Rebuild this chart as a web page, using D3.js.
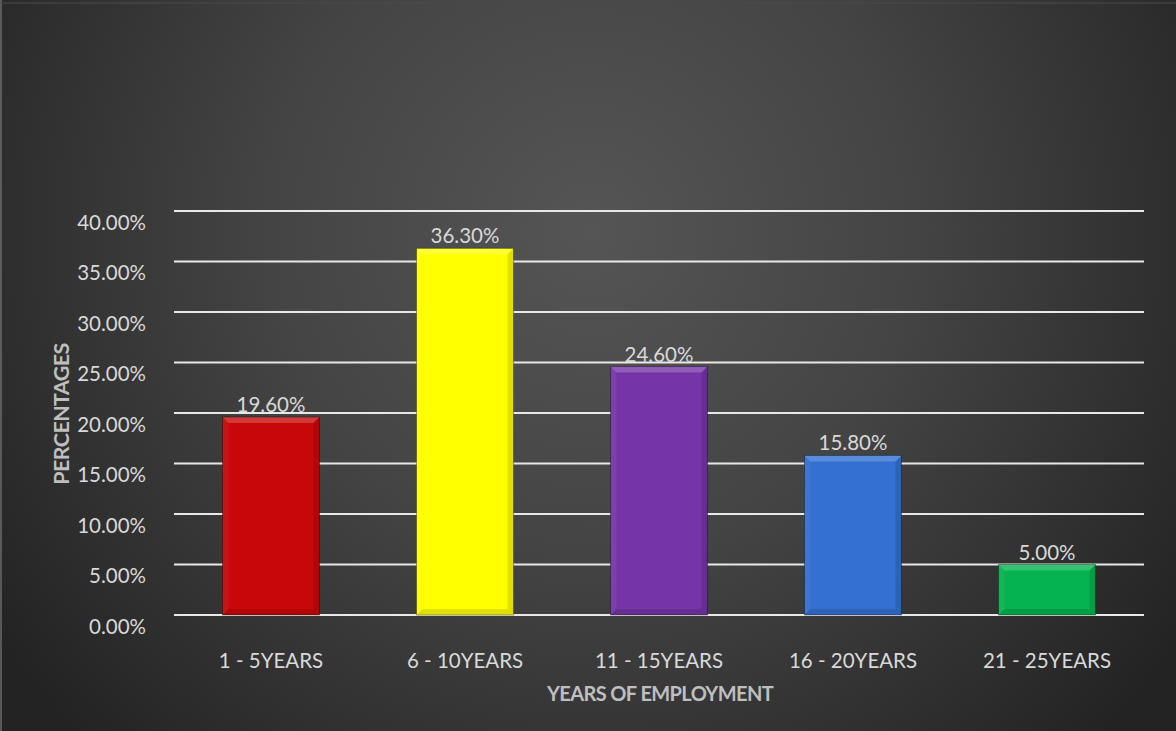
<!DOCTYPE html>
<html>
<head>
<meta charset="utf-8">
<script src="https://cdn.jsdelivr.net/npm/d3@7"></script>
<style>
  html, body { margin: 0; padding: 0; background: #2b2b2b; }
  svg { display: block; }
</style>
</head>
<body>
<svg id="chart" width="1176" height="731"></svg>
<script>
// Share of staff by years of employment
const categories = ["1 - 5YEARS", "6 - 10YEARS", "11 - 15YEARS", "16 - 20YEARS", "21 - 25YEARS"];
const values = [19.6, 36.3, 24.6, 15.8, 5.0];
const barColors = ["#c80808", "#ffff00", "#7535a8", "#3370d2", "#05b351"];
const yTicks = [0, 5, 10, 15, 20, 25, 30, 35, 40];

const W = 1176, H = 731;
const margin = { left: 174, right: 32, top: 211, bottom: 116 };

const svg = d3.select("#chart");
const defs = svg.append("defs");

// background glow
const bg = defs.append("radialGradient")
  .attr("id", "bgGlow")
  .attr("gradientUnits", "userSpaceOnUse")
  .attr("cx", 590).attr("cy", 230).attr("r", 720);
bg.append("stop").attr("offset", 0).attr("stop-color", "#555555");
bg.append("stop").attr("offset", 0.45).attr("stop-color", "#444444");
bg.append("stop").attr("offset", 1).attr("stop-color", "#232323");

svg.append("rect").attr("width", W).attr("height", H).attr("fill", "url(#bgGlow)");
svg.append("line").attr("x1", 1).attr("x2", 1).attr("y1", 0).attr("y2", H)
  .attr("stroke", "#8a8a8a").attr("stroke-width", 1);
svg.append("line").attr("x1", 0).attr("x2", W).attr("y1", 3).attr("y2", 3)
  .attr("stroke", "#4a4a4a").attr("stroke-width", 1);

const x = d3.scaleBand()
  .domain(categories)
  .range([margin.left, W - margin.right])
  .paddingInner(0.5)
  .paddingOuter(0.25);

const y = d3.scaleLinear()
  .domain([0, 40])
  .range([H - margin.bottom, margin.top]);

const font = "Lato, 'Open Sans', 'DejaVu Sans', sans-serif";
const labelSize = "20.5px";

// gridlines
svg.append("g")
  .selectAll("line")
  .data(yTicks)
  .join("line")
  .attr("x1", margin.left)
  .attr("x2", W - margin.right)
  .attr("y1", d => y(d))
  .attr("y2", d => y(d))
  .attr("stroke", "#e8e8e8")
  .attr("stroke-width", 2);

// y axis labels
const yAxis = d3.axisLeft(y)
  .tickValues(yTicks)
  .tickFormat(d => d3.format(".2f")(d) + "%")
  .tickSize(0)
  .tickPadding(28);
const gy = svg.append("g")
  .attr("transform", `translate(${margin.left},0)`)
  .call(yAxis);
gy.select(".domain").remove();
gy.selectAll("text")
  .attr("dy", "0.88em")
  .attr("fill", "#d9d9d9")
  .style("font-family", font)
  .style("font-size", labelSize);

// bars with bevelled edges
const bev = 6;
const bars = svg.append("g").selectAll("g")
  .data(categories.map((c, i) => ({ c, v: values[i], col: barColors[i] })))
  .join("g");

bars.append("rect")
  .attr("x", d => x(d.c))
  .attr("y", d => y(d.v))
  .attr("width", x.bandwidth())
  .attr("height", d => y(0) - y(d.v))
  .attr("fill", d => d.col);

function face(d, which) {
  const x0 = x(d.c), x1 = x0 + x.bandwidth();
  const y0 = y(d.v), y1 = y(0);
  if (which === "top") return [[x0, y0], [x1, y0], [x1 - bev, y0 + bev], [x0 + bev, y0 + bev]];
  if (which === "bottom") return [[x0, y1], [x1, y1], [x1 - bev, y1 - bev], [x0 + bev, y1 - bev]];
  if (which === "left") return [[x0, y0], [x0 + bev, y0 + bev], [x0 + bev, y1 - bev], [x0, y1]];
  return [[x1, y0], [x1 - bev, y0 + bev], [x1 - bev, y1 - bev], [x1, y1]];
}
const faces = [
  { k: "top", c: "#ffffff", o: 0.2 },
  { k: "left", c: "#ffffff", o: 0.05 },
  { k: "right", c: "#000000", o: 0.12 },
  { k: "bottom", c: "#000000", o: 0.12 }
];
faces.forEach(f => {
  bars.append("polygon")
    .attr("points", d => face(d, f.k).map(p => p.join(",")).join(" "))
    .attr("fill", f.c)
    .attr("fill-opacity", f.o);
});
bars.append("rect")
  .attr("x", d => x(d.c))
  .attr("y", d => y(d.v))
  .attr("width", x.bandwidth())
  .attr("height", d => y(0) - y(d.v))
  .attr("fill", "none")
  .attr("stroke", "#000")
  .attr("stroke-opacity", 0.35)
  .attr("stroke-width", 1);

// value labels
svg.append("g").selectAll("text")
  .data(categories.map((c, i) => ({ c, v: values[i] })))
  .join("text")
  .attr("x", d => x(d.c) + x.bandwidth() / 2)
  .attr("y", d => y(d.v) - 5)
  .attr("text-anchor", "middle")
  .attr("fill", "#d9d9d9")
  .style("font-family", font)
  .style("font-size", labelSize)
  .text(d => d3.format(".2f")(d.v) + "%");

// x axis labels
const xAxis = d3.axisBottom(x).tickSize(0).tickPadding(38);
const gx = svg.append("g")
  .attr("transform", `translate(0,${y(0)})`)
  .call(xAxis);
gx.select(".domain").remove();
gx.selectAll("text")
  .attr("fill", "#d9d9d9")
  .style("font-family", font)
  .style("font-size", labelSize);

// axis titles
svg.append("text")
  .attr("x", 660)
  .attr("y", 701)
  .attr("text-anchor", "middle")
  .attr("fill", "#bfbfbf")
  .style("font-family", font)
  .style("font-weight", "bold")
  .style("font-size", "20px")
  .style("letter-spacing", "-0.6px")
  .text("YEARS OF EMPLOYMENT");

svg.append("text")
  .attr("transform", `translate(69,${(y(0) + y(40)) / 2 + 1}) rotate(-90)`)
  .attr("text-anchor", "middle")
  .attr("fill", "#bfbfbf")
  .style("font-family", font)
  .style("font-weight", "bold")
  .style("font-size", "21.5px")
  .style("letter-spacing", "-0.6px")
  .text("PERCENTAGES");
</script>
</body>
</html>
